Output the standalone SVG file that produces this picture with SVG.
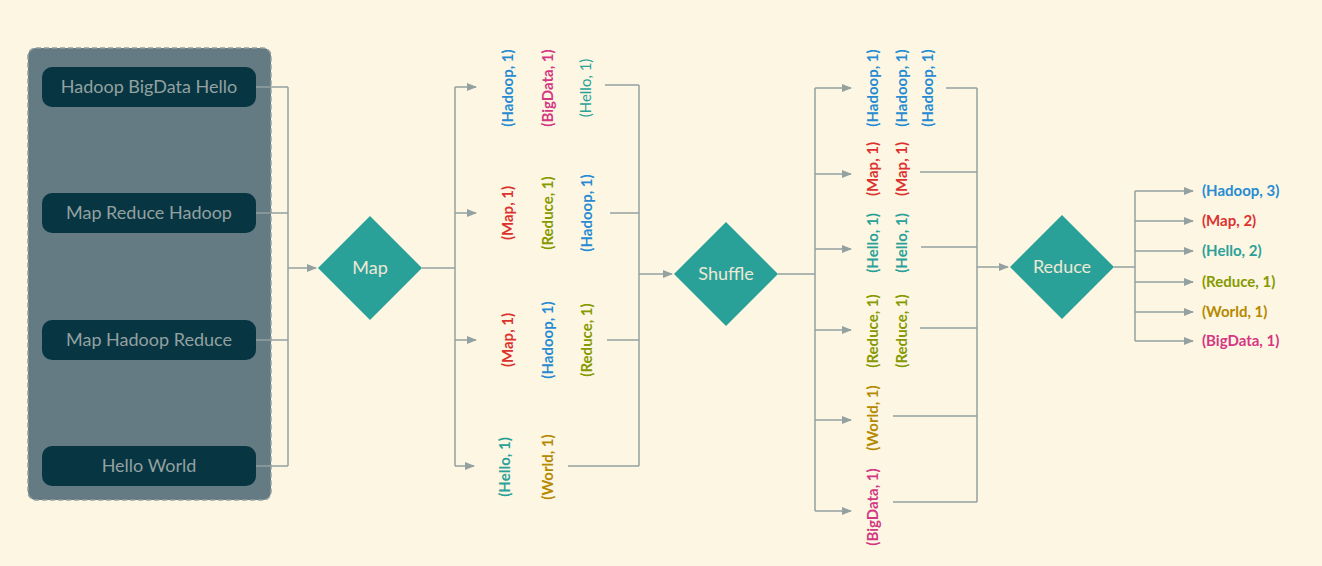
<svg xmlns="http://www.w3.org/2000/svg" width="1322" height="566" viewBox="0 0 1322 566">
<defs>
<marker id="ar" markerWidth="10" markerHeight="8" refX="9" refY="4" orient="auto" markerUnits="userSpaceOnUse"><path d="M0,0 L10,4 L0,8 z" fill="#93a1a1"/></marker>
<style>
.ln{fill:none;stroke:#93a1a1;stroke-width:1.5}
.nd rect{fill:#073642}
.nd text{font-family:Lato,"Open Sans",sans-serif;font-size:18px;fill:#93a1a1;text-anchor:middle}
.dm{fill:#2aa198}
.dt{font-family:Lato,sans-serif;font-size:18px;fill:#eee8d5;text-anchor:middle}
.t{font-family:Lato,"Open Sans",sans-serif;font-size:15px;font-weight:bold;text-anchor:middle}
.thin{font-weight:normal}
.b{fill:#268bd2}.p{fill:#d33682}.g{fill:#2aa198}.r{fill:#dc322f}.o{fill:#859900}.y{fill:#b58900}
</style>
</defs>
<rect width="1322" height="566" fill="#fdf6e3"/>
<rect x="28" y="48" width="243" height="452" rx="8" fill="#657b83" stroke="#93a1a1" stroke-width="1.5" stroke-dasharray="5,3"/>
<g id="n1" class="nd"><rect x="42" y="67" width="214" height="40" rx="10"/><text x="149" y="93">Hadoop BigData Hello</text></g>
<g id="n2" class="nd"><rect x="42" y="193" width="214" height="40" rx="10"/><text x="149" y="219">Map Reduce Hadoop</text></g>
<g id="n3" class="nd"><rect x="42" y="320" width="214" height="40" rx="10"/><text x="149" y="346">Map Hadoop Reduce</text></g>
<g id="n4" class="nd"><rect x="42" y="446" width="214" height="40" rx="10"/><text x="149" y="472">Hello World</text></g>
<g id="map"><polygon class="dm" points="370,216 422,268 370,320 318,268"/><text class="dt" x="370" y="274">Map</text></g>
<g id="shuffle"><polygon class="dm" points="726,222 778,274 726,326 674,274"/><text class="dt" x="726" y="280">Shuffle</text></g>
<g id="reduce"><polygon class="dm" points="1062,215 1114,267 1062,319 1010,267"/><text class="dt" x="1062" y="273">Reduce</text></g>
<g id="connectors">
<path class="ln" d="M256,87H288M256,213H288M256,340H288M256,466H288M288,87V466"/>
<path class="ln" marker-end="url(#ar)" d="M288,268H316"/>
<path class="ln" d="M422,268H455M455,87V466"/>
<path class="ln" marker-end="url(#ar)" d="M455,87H476"/>
<path class="ln" marker-end="url(#ar)" d="M455,213H476"/>
<path class="ln" marker-end="url(#ar)" d="M455,340H476"/>
<path class="ln" marker-end="url(#ar)" d="M455,466H474"/>
<path class="ln" d="M605,85H639M610,213H639M607,340H639M568,466H639M639,85V466"/>
<path class="ln" marker-end="url(#ar)" d="M639,274H672"/>
<path class="ln" d="M778,274H815M815,88V511"/>
<path class="ln" marker-end="url(#ar)" d="M815,88H851"/>
<path class="ln" marker-end="url(#ar)" d="M815,174H851"/>
<path class="ln" marker-end="url(#ar)" d="M815,249H851"/>
<path class="ln" marker-end="url(#ar)" d="M815,330H851"/>
<path class="ln" marker-end="url(#ar)" d="M815,420H851"/>
<path class="ln" marker-end="url(#ar)" d="M815,511H851"/>
<path class="ln" d="M946,88H977M920,172H977M921,247H977M920,328H977M893,416H977M893,502H977M977,88V502"/>
<path class="ln" marker-end="url(#ar)" d="M977,267H1008"/>
<path class="ln" d="M1114,267H1135M1135,191V341"/>
<path class="ln" marker-end="url(#ar)" d="M1135,191H1193"/>
<path class="ln" marker-end="url(#ar)" d="M1135,221H1193"/>
<path class="ln" marker-end="url(#ar)" d="M1135,251H1193"/>
<path class="ln" marker-end="url(#ar)" d="M1135,282H1193"/>
<path class="ln" marker-end="url(#ar)" d="M1135,312H1193"/>
<path class="ln" marker-end="url(#ar)" d="M1135,341H1193"/>
</g>
<g id="maplabels">
<text class="t b" transform="translate(513,88) rotate(-90)">(Hadoop, 1)</text>
<text class="t p" transform="translate(553,88) rotate(-90)">(BigData, 1)</text>
<text class="t g thin" transform="translate(591,88) rotate(-90)">(Hello, 1)</text>
<text class="t r" transform="translate(513,213) rotate(-90)">(Map, 1)</text>
<text class="t o" transform="translate(553,213) rotate(-90)">(Reduce, 1)</text>
<text class="t b" transform="translate(592,213) rotate(-90)">(Hadoop, 1)</text>
<text class="t r" transform="translate(513,340) rotate(-90)">(Map, 1)</text>
<text class="t b" transform="translate(553,340) rotate(-90)">(Hadoop, 1)</text>
<text class="t o" transform="translate(592,340) rotate(-90)">(Reduce, 1)</text>
<text class="t g" transform="translate(510,467) rotate(-90)">(Hello, 1)</text>
<text class="t y" transform="translate(553,467) rotate(-90)">(World, 1)</text>
</g>
<g id="shufflelabels">
<text class="t b" transform="translate(878,88) rotate(-90)">(Hadoop, 1)</text>
<text class="t r" transform="translate(878,169) rotate(-90)">(Map, 1)</text>
<text class="t g" transform="translate(878,243) rotate(-90)">(Hello, 1)</text>
<text class="t o" transform="translate(878,331) rotate(-90)">(Reduce, 1)</text>
<text class="t y" transform="translate(878,418) rotate(-90)">(World, 1)</text>
<text class="t p" transform="translate(878,507) rotate(-90)">(BigData, 1)</text>
<text class="t b" transform="translate(907,88) rotate(-90)">(Hadoop, 1)</text>
<text class="t r" transform="translate(907,169) rotate(-90)">(Map, 1)</text>
<text class="t g" transform="translate(907,243) rotate(-90)">(Hello, 1)</text>
<text class="t o" transform="translate(907,331) rotate(-90)">(Reduce, 1)</text>
<text class="t b" transform="translate(933,88) rotate(-90)">(Hadoop, 1)</text>
</g>
<g id="outputs" style="text-anchor:start">
<text class="t b" style="text-anchor:start" x="1202" y="196">(Hadoop, 3)</text>
<text class="t r" style="text-anchor:start" x="1202" y="226">(Map, 2)</text>
<text class="t g" style="text-anchor:start" x="1202" y="256">(Hello, 2)</text>
<text class="t o" style="text-anchor:start" x="1202" y="287">(Reduce, 1)</text>
<text class="t y" style="text-anchor:start" x="1202" y="317">(World, 1)</text>
<text class="t p" style="text-anchor:start" x="1202" y="346">(BigData, 1)</text>
</g>
</svg>
